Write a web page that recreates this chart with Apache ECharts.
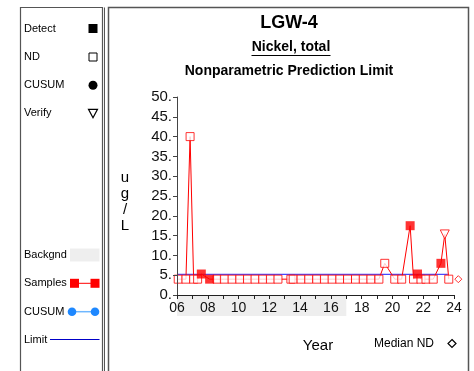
<!DOCTYPE html>
<html>
<head>
<meta charset="utf-8">
<script src="https://cdn.jsdelivr.net/npm/echarts@6/dist/echarts.min.js"></script>
<style>
html,body{margin:0;padding:0;background:#fff;}
#chart{width:474px;height:371px;}
</style>
</head>
<body>
<div id="chart"></div>
<script>
// ---- data ----
const sampleYears = [6.08, 6.58, 6.85, 7.08, 7.34, 7.58, 8.12, 8.6, 9.08, 9.58, 10.08, 10.58, 11.07, 11.57, 12.07, 12.56, 13.4, 13.55, 14.06, 14.56, 15.08, 15.58, 16.08, 16.58, 17.08, 17.6, 18.1, 18.6, 19.12, 19.5, 20.15, 20.6, 21.15, 21.37, 21.63, 21.85, 22.18, 22.65, 23.15, 23.4, 23.66];
const sampleValues = [4, 4, 40, 4, 4, 5.3, 4, 4, 4, 4, 4, 4, 4, 4, 4, 4, 4, 4, 4, 4, 4, 4, 4, 4, 4, 4, 4, 4, 4, 8, 4, 4, 17.5, 4, 5.3, 4, 4, 4, 8, 15.3, 4];
const sampleTypes = ['ND','ND','ND','ND','ND','D','D','ND','ND','ND','ND','ND','ND','ND','ND','ND','ND','ND','ND','ND','ND','ND','ND','ND','ND','ND','ND','ND','ND','ND','ND','ND','D','ND','D','ND','ND','ND','D','V','ND'];
const limitValue = 5.2;
const limitRange = [6, 23.6];
const medianND = [24.28, 4];
const backgroundRange = [6, 17];
const xTicks = [6, 24, 2];
const yTicks = [0, 50, 5];

// ---- build ----
const all = sampleYears.map((x, i) => [x, sampleValues[i]]);
const pick = t => sampleYears.map((x, i) => sampleTypes[i] === t ? [x, sampleValues[i]] : null).filter(Boolean);
const RED = '#ff0000';
const FONT = 'Liberation Sans';

const chart = echarts.init(document.getElementById('chart'), null, {renderer: 'canvas'});

const legendY = {detect: 28.5, nd: 57, cusum: 85.3, verify: 113.3, back: 255, samples: 283.3, cusum2: 311.7, limit: 339.5};
const txt = (x, y, s, size, extra) => ({type: 'text', x: x, y: y,
  style: Object.assign({text: s, fontSize: size, fontFamily: FONT, fontWeight: 'normal', fill: '#000', verticalAlign: 'middle'}, extra || {})});

const graphics = [
  // boxes
  {type: 'rect', shape: {x: 20.5, y: 7.5, width: 82, height: 400}, style: {fill: 'none', stroke: '#555', lineWidth: 1.2}, z: 0},
  {type: 'line', shape: {x1: 104.5, y1: 7.5, x2: 104.5, y2: 400}, style: {stroke: '#555', lineWidth: 1}},
  {type: 'rect', shape: {x: 108.5, y: 7.5, width: 360, height: 400}, style: {fill: 'none', stroke: '#555', lineWidth: 1.5}, z: 0},
  // left legend
  txt(24, legendY.detect, 'Detect', 11),
  {type: 'rect', shape: {x: 88.5, y: legendY.detect - 4.5, width: 9, height: 9}, style: {fill: '#000'}},
  txt(24, legendY.nd, 'ND', 11),
  {type: 'rect', shape: {x: 89, y: legendY.nd - 4, width: 8, height: 8}, style: {fill: '#fff', stroke: '#000', lineWidth: 1}},
  txt(24, legendY.cusum, 'CUSUM', 11),
  {type: 'circle', shape: {cx: 93, cy: legendY.cusum, r: 4.5}, style: {fill: '#000'}},
  txt(24, legendY.verify, 'Verify', 11),
  {type: 'polygon', shape: {points: [[88.5, legendY.verify - 4], [97.5, legendY.verify - 4], [93, legendY.verify + 4.5]]}, style: {fill: '#fff', stroke: '#000', lineWidth: 1.2}},
  txt(24, legendY.back, 'Backgnd', 11),
  {type: 'rect', shape: {x: 70, y: legendY.back - 6.5, width: 29.5, height: 13}, style: {fill: '#eeeeee'}},
  txt(24, legendY.samples, 'Samples', 11),
  {type: 'line', shape: {x1: 75, y1: legendY.samples, x2: 95, y2: legendY.samples}, style: {stroke: RED, lineWidth: 1}},
  {type: 'rect', shape: {x: 70, y: legendY.samples - 4.5, width: 9, height: 9}, style: {fill: RED}},
  {type: 'rect', shape: {x: 90.5, y: legendY.samples - 4.5, width: 9, height: 9}, style: {fill: RED}},
  txt(24, legendY.cusum2, 'CUSUM', 11),
  {type: 'line', shape: {x1: 72, y1: legendY.cusum2, x2: 95, y2: legendY.cusum2}, style: {stroke: '#6fb7ff', lineWidth: 1.5}},
  {type: 'circle', shape: {cx: 72, cy: legendY.cusum2, r: 4.3}, style: {fill: '#1e88ff'}},
  {type: 'circle', shape: {cx: 95, cy: legendY.cusum2, r: 4.3}, style: {fill: '#1e88ff'}},
  txt(24, legendY.limit, 'Limit', 11),
  {type: 'line', shape: {x1: 50, y1: legendY.limit, x2: 99.5, y2: legendY.limit}, style: {stroke: '#0000c8', lineWidth: 1}},
  // titles
  txt(289, 23.5, 'LGW-4', 18, {align: 'center', fontWeight: 'bold'}),
  txt(291, 47, 'Nickel, total', 14, {align: 'center', fontWeight: 'bold'}),
  {type: 'line', shape: {x1: 251.5, y1: 55.5, x2: 330.5, y2: 55.5}, style: {stroke: '#000', lineWidth: 1}},
  txt(289, 71, 'Nonparametric Prediction Limit', 14, {align: 'center', fontWeight: 'bold'}),
  // axis titles
  txt(125, 178, 'u', 15, {align: 'center'}),
  txt(125, 194, 'g', 15, {align: 'center'}),
  txt(125, 210, '/', 15, {align: 'center'}),
  txt(125, 226, 'L', 15, {align: 'center'}),
  txt(318, 346, 'Year', 15, {align: 'center'}),
  txt(374, 343.5, 'Median ND', 12),
  {type: 'polygon', shape: {points: [[452, 339.5], [456, 343.5], [452, 347.5], [448, 343.5]]}, style: {fill: '#fff', stroke: '#000', lineWidth: 1.2}}
];

const option = {
  animation: false,
  backgroundColor: '#fff',
  textStyle: {fontFamily: FONT},
  grid: [
    {left: 177, top: 97, width: 277, height: 198, containLabel: false},
    {left: 177, top: 296, width: 277, height: 20, containLabel: false}
  ],
  xAxis: [
    {
      type: 'value', gridIndex: 0, min: xTicks[0], max: xTicks[1], interval: xTicks[2], z: 5,
      axisLine: {show: true, onZero: false, lineStyle: {color: '#222', width: 1}},
      axisTick: {show: true, length: 4, lineStyle: {color: '#222'}},
      minorTick: {show: true, splitNumber: 2, length: 4, lineStyle: {color: '#222'}},
      splitLine: {show: false},
      axisLabel: {color: '#111', fontSize: 14, fontFamily: FONT, margin: 6,
        formatter: v => String(v).padStart(2, '0')}
    },
    {type: 'value', gridIndex: 1, min: xTicks[0], max: xTicks[1], show: false}
  ],
  yAxis: [
    {
      type: 'value', gridIndex: 0, min: yTicks[0], max: yTicks[1], interval: yTicks[2], z: 5,
      axisLine: {show: true, lineStyle: {color: '#444', width: 1}},
      axisTick: {show: true, length: 4, lineStyle: {color: '#444'}},
      splitLine: {show: false},
      axisLabel: {color: '#111', fontSize: 15, fontFamily: FONT, margin: 5, formatter: v => v + '.'}
    },
    {type: 'value', gridIndex: 1, min: 0, max: 1, show: false}
  ],
  series: [
    {
      type: 'line', xAxisIndex: 1, yAxisIndex: 1, z: 0, data: [[backgroundRange[0], 0.5]],
      symbol: 'none', lineStyle: {opacity: 0}, silent: true,
      markArea: {silent: true, itemStyle: {color: '#eeeeee'}, data: [[{xAxis: backgroundRange[0]}, {xAxis: backgroundRange[1]}]]}
    },
    {
      type: 'line', data: limitRange.map(x => [x, limitValue]), symbol: 'none',
      lineStyle: {color: '#4848ff', width: 1.2}, z: 2
    },
    {
      type: 'line', data: all, symbol: 'none', lineStyle: {color: RED, width: 1}, z: 3
    },
    {
      type: 'scatter', data: pick('ND'), symbol: 'rect', symbolSize: 8, z: 4,
      itemStyle: {color: '#fff', borderColor: RED, borderWidth: 1}
    },
    {
      type: 'scatter', data: pick('D'), symbol: 'rect', symbolSize: 9, z: 4,
      itemStyle: {color: RED, borderColor: RED, borderWidth: 0}
    },
    {
      type: 'scatter', data: pick('V'), symbol: 'triangle', symbolRotate: 180, symbolSize: 9, z: 4,
      itemStyle: {color: '#fff', borderColor: RED, borderWidth: 1}
    },
    {
      type: 'scatter', data: [medianND], symbol: 'diamond', symbolSize: 7, clip: false, z: 4,
      itemStyle: {color: '#fff', borderColor: RED, borderWidth: 1}
    }
  ],
  graphic: graphics
};
chart.setOption(option);
</script>
</body>
</html>
